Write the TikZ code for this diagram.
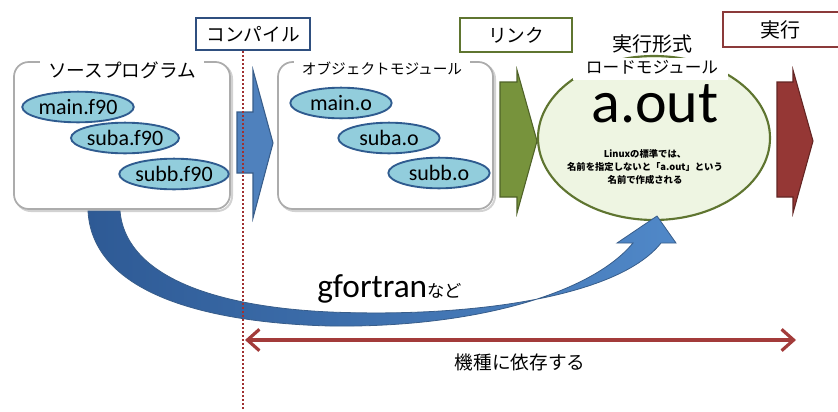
\documentclass[tikz,border=0pt]{standalone}
\usepackage{fontspec}
\setmainfont{Carlito}
\newfontfamily\jp{Noto Sans CJK JP}
\usetikzlibrary{arrows.meta,shapes.geometric}
\definecolor{ellFill}{HTML}{92CDDC}
\definecolor{ellBorder}{HTML}{2F5B8F}
\definecolor{cmpBorder}{HTML}{2F4F7F}
\definecolor{lnkBorder}{HTML}{5F7530}
\definecolor{exeBorder}{HTML}{8B3A3A}
\definecolor{blueA}{HTML}{4F81BD}
\definecolor{blueAE}{HTML}{385D8A}
\definecolor{greenA}{HTML}{77933C}
\definecolor{greenAE}{HTML}{4F6228}
\definecolor{redA}{HTML}{953735}
\definecolor{redAE}{HTML}{632523}
\definecolor{aoutFill}{HTML}{EEF5E2}
\definecolor{curveL}{HTML}{2E5A95}
\definecolor{curveR}{HTML}{5088C8}
\definecolor{dotRed}{HTML}{A03030}
\definecolor{dblRed}{HTML}{A33B3A}
\tikzset{
  fileell/.style={ellipse, draw=ellBorder, fill=ellFill, line width=1.4pt, minimum width=76pt, minimum height=23pt, inner sep=0pt, font=\fontsize{16.5}{19}\selectfont},
  groupbox/.style={draw=gray!65, line width=1.3pt, rounded corners=11pt, fill=white},
  groupshadow/.style={draw=gray!35, line width=1.5pt, rounded corners=11pt},
  grouptitle/.style={fill=white, inner xsep=6pt, inner ysep=1pt},
  stagebox/.style={draw, line width=1.6pt, fill=white, font=\jp\fontsize{14}{16}\selectfont, inner sep=0pt},
}
\begin{document}
\begin{tikzpicture}[x=0.75pt,y=-0.75pt]
\useasboundingbox (0,0) rectangle (838,411);

% stage boxes
\node[stagebox, draw=cmpBorder, minimum width=85pt, minimum height=24pt] (compile) at (253,34) {コンパイル};
\node[stagebox, draw=lnkBorder, minimum width=84pt, minimum height=26pt] (link) at (516,35) {リンク};
\draw[exeBorder, line width=1.6pt] (845,12) -- (723,12) -- (723,47) -- (845,47);
\node[font=\jp\fontsize{15}{17}\selectfont] (exec) at (780,30) {実行};

% group boxes
\draw[groupshadow] (16,64) rectangle (232,211);
\draw[groupbox] (14,62) rectangle (230,209);
\node[grouptitle, font=\jp\fontsize{14}{16}\selectfont] (srctitle) at (122,70) {ソースプログラム};
\draw[groupshadow] (280,64) rectangle (495,211);
\draw[groupbox] (278,62) rectangle (493,209);
\node[grouptitle, font=\jp\fontsize{11}{13}\selectfont] (objtitle) at (382,69) {オブジェクトモジュール};

% files
\node[fileell] (mainf) at (78,107) {main.f90};
\node[fileell] (subaf) at (125,138) {suba.f90};
\node[fileell] (subbf) at (174,174) {subb.f90};
\node[fileell] (maino) at (341,103) {main.o};
\node[fileell] (subao) at (389,138) {suba.o};
\node[fileell] (subbo) at (439,173) {subb.o};

% block arrows
\filldraw[fill=blueA, draw=blueAE, line width=0.8pt] (237,112) -- (253,112) -- (253,70) -- (273,143) -- (253,218) -- (253,173) -- (237,173) -- cycle;
\filldraw[fill=greenA, draw=greenAE, line width=0.8pt] (500,82) -- (517,82) -- (517,70) -- (537,141) -- (517,213) -- (517,197) -- (500,197) -- cycle;
\filldraw[fill=redA, draw=redAE, line width=0.8pt] (777,82) -- (793,82) -- (793,70) -- (813,141) -- (793,213) -- (793,197) -- (777,197) -- cycle;

% a.out ellipse
\node[ellipse, draw=lnkBorder, fill=aoutFill, line width=1.6pt, minimum width=174pt, minimum height=123pt] (aout) at (654,138) {};
\fill[white] (573,58) rectangle (728,80);
\node[font=\jp\fontsize{15}{17}\selectfont] (exetitle) at (652,44) {実行形式};
\node[font=\jp\fontsize{12.5}{14}\selectfont, inner sep=0pt] (loadtitle) at (652,67) {ロードモジュール};
\node[anchor=base, inner sep=0pt, font=\fontsize{45}{50}\selectfont] (aouttext) at (655,122) {a.out};
\node[align=center, font=\jp\bfseries\fontsize{7}{9.75}\selectfont] (note) at (645,167) {Linuxの標準では、\\名前を指定しないと「a.out」という\\名前で作成される};

% curved arrow
\shadedraw[left color=curveL, right color=curveR, draw=blueAE, line width=0.6pt]
  (88,211) .. controls (92,285) and (185,322) .. (330,326)
  .. controls (470,328) and (590,295) .. (633,243)
  -- (617,243) -- (657,216) -- (676,243) -- (661,243)
  .. controls (620,295) and (480,318) .. (330,312)
  .. controls (200,306) and (125,270) .. (120,211) -- cycle;
\node[anchor=base west, inner sep=0pt] (gfort) at (317,297) {\fontsize{25}{28}\selectfont gfortran{\jp\fontsize{13}{15}\selectfont など}};

% dotted boundary
\coordinate (dtop) at (243,51);
\coordinate (dbot) at (243,411);
\draw[dotRed, line width=1.3pt, dash pattern=on 1.5pt off 1.5pt] (dtop) -- (dbot);

% dependency arrow
\coordinate (depL) at (245,340);
\coordinate (depR) at (796,340);
\draw[dblRed, line width=2.4pt, {Straight Barb[length=9pt,width=16pt]}-{Straight Barb[length=9pt,width=16pt]}] (depL) -- (depR);
\node[font=\jp\fontsize{14}{16}\selectfont] (dep) at (520,362) {機種に依存する};
\end{tikzpicture}
\end{document}
